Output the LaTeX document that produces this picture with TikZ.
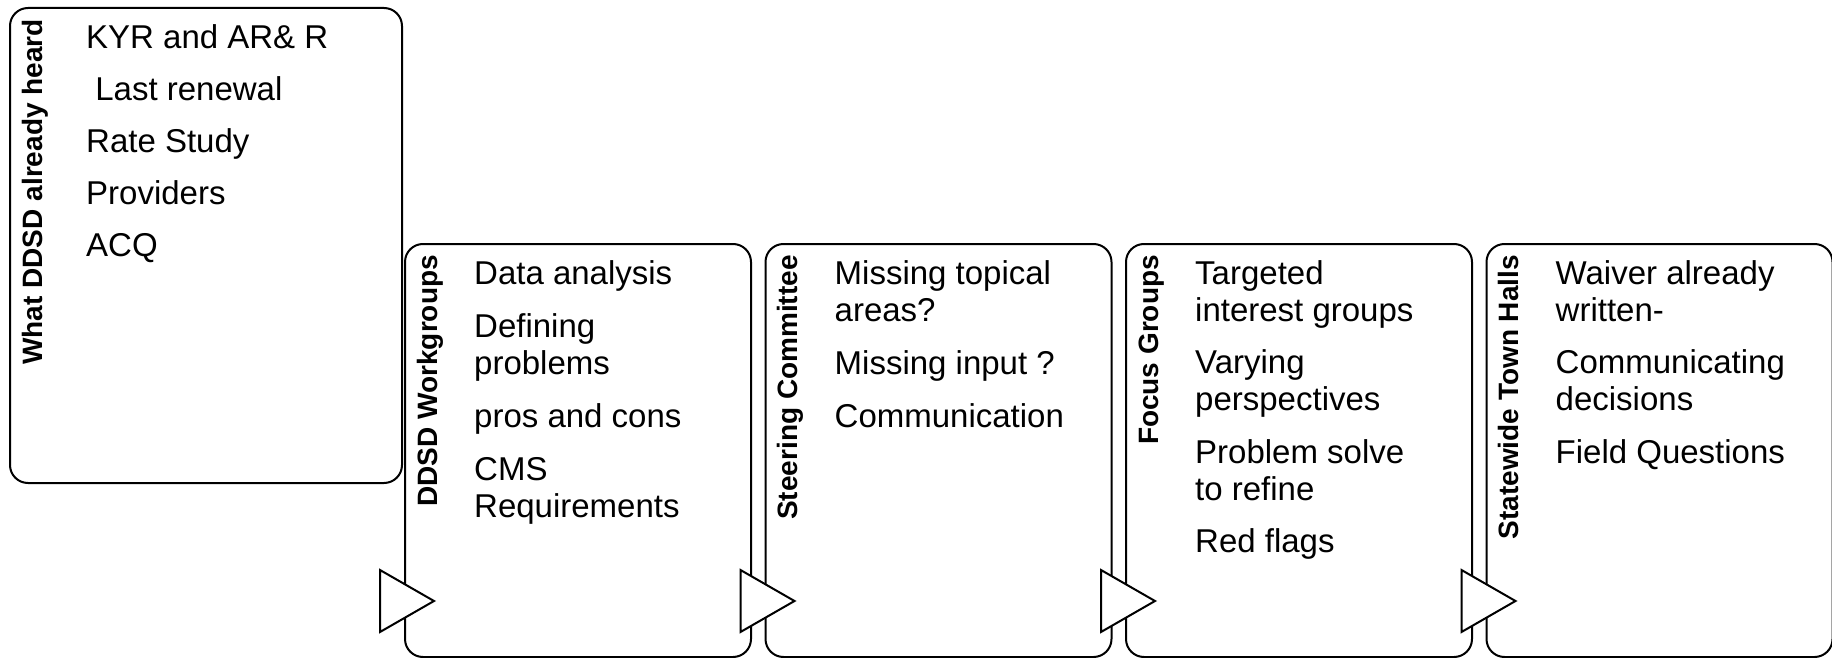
\documentclass[tikz,border=0pt]{standalone}
\usepackage{fontspec}
\setmainfont{Liberation Sans}
\usetikzlibrary{positioning}

\begin{document}
\begin{tikzpicture}[x=1pt, y=-1pt,
	stage/.style={draw, line width=2pt, rounded corners=18pt, minimum width=346pt, minimum height=413pt, inner sep=0pt},
	heading/.style={rotate=90, inner sep=0pt, anchor=base east, font=\bfseries\fontsize{28}{30}\selectfont},
	items/.style={align=left, inner sep=0pt, anchor=north west, font=\fontsize{33}{37}\selectfont},
	marker/.style={draw, line width=2pt, fill=white, line join=miter}
	]
	\useasboundingbox (0,0) rectangle (1832,658);
	% stage boxes
	\node[stage, minimum width=392pt, minimum height=475pt, anchor=north west] (heard) at (9,7) {};
	\node[stage, anchor=north west] (work) at (404,243) {};
	\node[stage, right=12.5pt of work] (steer) {};
	\node[stage, right=12.5pt of steer] (focus) {};
	\node[stage, right=12.5pt of focus] (town) {};
	% vertical titles
	\node[heading] (heard-title) at ([shift={(33pt,-12pt)}]heard.north west) {What DDSD already heard};
	\node[heading] (work-title) at ([shift={(33pt,-12pt)}]work.north west) {DDSD Workgroups};
	\node[heading] (steer-title) at ([shift={(33pt,-12pt)}]steer.north west) {Steering Committee};
	\node[heading] (focus-title) at ([shift={(33pt,-12pt)}]focus.north west) {Focus Groups};
	\node[heading] (town-title) at ([shift={(33pt,-12pt)}]town.north west) {Statewide Town Halls};
	% item lists
	\node[items] (heard-list) at ([shift={(77pt,-17pt)}]heard.north west)
		{KYR and AR\& R\\[15pt]~Last renewal\\[15pt]Rate Study\\[15pt]Providers\\[15pt]ACQ};
	\node[items] (work-list) at ([shift={(70pt,-17pt)}]work.north west)
		{Data analysis\\[16pt]Defining\\problems\\[16pt]pros and cons\\[16pt]CMS\\Requirements};
	\node[items] (steer-list) at ([shift={(70pt,-17pt)}]steer.north west)
		{Missing topical\\areas?\\[16pt]Missing input ?\\[16pt]Communication};
	\node[items] (focus-list) at ([shift={(70pt,-17pt)}]focus.north west)
		{Targeted\\interest groups\\[15pt]Varying\\perspectives\\[16pt]Problem solve\\to refine\\[15pt]Red flags};
	\node[items] (town-list) at ([shift={(70pt,-17pt)}]town.north west)
		{Waiver already\\written-\\[15pt]Communicating\\decisions\\[16pt]Field Questions};
	% flow marks
	\foreach \b in {work, steer, focus, town}
		\draw[marker] ([shift={(-24pt,88pt)}]\b.south west) -- ++(54pt,-31pt) -- ++(-54pt,-31pt) -- cycle;
\end{tikzpicture}
\end{document}
